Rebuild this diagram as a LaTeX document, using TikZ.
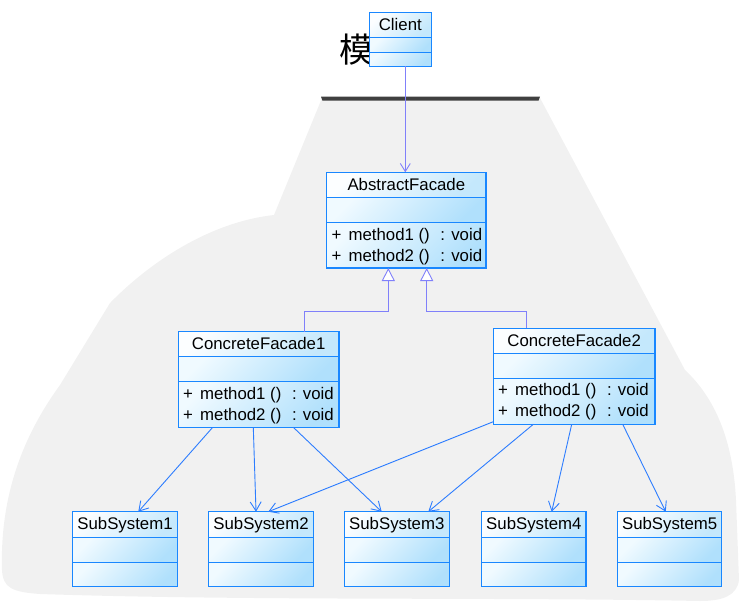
\documentclass[tikz,border=0pt]{standalone}
\usepackage{fontspec}
\setmainfont{Liberation Sans}
\newfontfamily\cjk{Noto Sans CJK SC}
\usetikzlibrary{arrows.meta,calc,fit}
\definecolor{boxblue}{RGB}{25,135,255}
\definecolor{depblue}{RGB}{45,125,255}
\definecolor{genpurple}{RGB}{128,128,250}
\definecolor{hdrA}{RGB}{252,254,255}
\definecolor{hdrB}{RGB}{196,232,252}
\definecolor{cmpA}{RGB}{240,250,255}
\definecolor{cmpB}{RGB}{176,224,252}
\definecolor{bggray}{RGB}{241,241,241}
\definecolor{bardark}{RGB}{64,64,64}
\tikzset{
  hdrfill/.style={top color=hdrA, bottom color=hdrB, shading angle=45},
  cmpfill/.style={top color=cmpA, bottom color=cmpB, shading angle=45},
  sep/.style={draw=boxblue, line width=1.1pt},
  classframe/.style={draw=boxblue, line width=1.2pt, inner sep=0pt, outer sep=0pt, rectangle},
  titletext/.style={font=\fontsize{16.8}{19}\selectfont, inner sep=0pt},
  methtext/.style={font=\fontsize{16.8}{19}\selectfont, inner sep=0pt},
  dep/.style={draw=depblue, line width=0.9pt, -{Straight Barb[length=9pt,width=11pt,line width=0.9pt]}},
  assoc/.style={draw=genpurple, line width=0.9pt, -{Straight Barb[length=8pt,width=10pt,line width=0.9pt]}},
  gen/.style={draw=genpurple, line width=0.9pt, -{Triangle[length=13pt,width=13pt,fill=white,line width=0.9pt]}},
}
\newcommand{\umlclass}[8]{%
  \path[hdrfill] (#2,#3) rectangle (#4,#6);
  \path[cmpfill] (#2,#6) rectangle (#4,#7);
  \path[cmpfill] (#2,#7) rectangle (#4,#5);
  \draw[sep] (#2,#6) -- (#4,#6) (#2,#7) -- (#4,#7);
  \node[classframe, fit={(#2,#3) (#4,#5)}] (#1) {};
  \node[titletext, anchor=base] (#1-title) at ({(#2+#4)/2},{#3+17.8}) {#8};
}
\newcommand{\umlmethods}[3]{%
  \node[methtext, anchor=base west] (#1-m1) at ({#2+4.6},{#3+17.6}) {+\hspace{7.3pt}method1 ()\hspace{10.6pt}: void};
  \node[methtext, anchor=base west] (#1-m2) at ({#2+4.6},{#3+38.3}) {+\hspace{7.3pt}method2 ()\hspace{10.6pt}: void};
}
\begin{document}
\begin{tikzpicture}[x=1pt,y=-1pt]
\useasboundingbox (0,0) rectangle (739,603);
% background blob
\fill[bggray] (322,98) -- (540,98) -- (685,370)
  .. controls (715,398) and (733,440) .. (736,500)
  -- (739,580) .. controls (737,596) and (722,601) .. (700,601)
  .. controls (500,597) and (250,601) .. (40,594)
  .. controls (12,592) and (3,588) .. (2,570)
  .. controls (0,500) and (20,440) .. (60,385)
  -- (110,303)
  .. controls (150,262) and (210,222) .. (274,215) -- cycle;
% dark bar
\fill[bardark] (321,96.7) -- (540,96.7) -- (538.5,100.7) -- (322.5,100.7) -- cycle;
% character
\node[font=\cjk\fontsize{34}{34}\selectfont, inner sep=0pt] (mo) at (356,49.5) {模};
% classes
\umlclass{client}{369.3}{12.3}{431.3}{66.3}{37.7}{52.3}{Client}
\umlclass{af}{326.7}{172.3}{486}{268}{197.3}{222.7}{AbstractFacade}
\umlmethods{af}{326.7}{222.7}
\umlclass{cf1}{178.3}{331.7}{339}{427.3}{356.7}{381.7}{ConcreteFacade1}
\umlmethods{cf1}{178.3}{381.7}
\umlclass{cf2}{493.3}{328.3}{655}{424.3}{353.3}{378.3}{ConcreteFacade2}
\umlmethods{cf2}{493.3}{378.3}
\umlclass{ss1}{72.3}{511.7}{177.7}{586.3}{537.7}{562.3}{SubSystem1}
\umlclass{ss2}{208.5}{511.7}{313.5}{586.3}{537.7}{562.3}{SubSystem2}
\umlclass{ss3}{344.3}{511.7}{449.3}{586.3}{537.7}{562.3}{SubSystem3}
\umlclass{ss4}{481.7}{511.7}{586}{586.3}{537.7}{562.3}{SubSystem4}
\umlclass{ss5}{617.7}{511.7}{721.7}{586.3}{537.7}{562.3}{SubSystem5}
% client -> abstract facade
\draw[assoc] ($(client.south west)+(36,0)$) -- ($(af.north west)+(78.6,0)$);
% generalizations
\draw[gen] ($(cf1.north west)+(125.7,0)$) -- ++(0,-20) -| ($(af.south west)+(61.6,0)$);
\draw[gen] ($(cf2.north west)+(33,0)$) -- ++(0,-16.6) -| ($(af.south west)+(100,0)$);
% dependencies
\draw[dep] ($(cf1.south west)+(34.4,0)$) -- ($(ss1.north west)+(66,0)$);
\draw[dep] ($(cf1.south west)+(75,0)$) -- ($(ss2.north west)+(47.5,0)$);
\draw[dep] ($(cf1.south west)+(115,0)$) -- ($(ss3.north west)+(37.4,0)$);
\draw[dep] ($(cf2.south west)+(0,-2.6)$) -- ($(ss2.north west)+(59.8,0)$);
\draw[dep] ($(cf2.south west)+(40,0)$) -- ($(ss3.north west)+(84,0)$);
\draw[dep] ($(cf2.south west)+(78.4,0)$) -- ($(ss4.north west)+(70,0)$);
\draw[dep] ($(cf2.south west)+(129.4,0)$) -- ($(ss5.north west)+(48,0)$);
\end{tikzpicture}
\end{document}
